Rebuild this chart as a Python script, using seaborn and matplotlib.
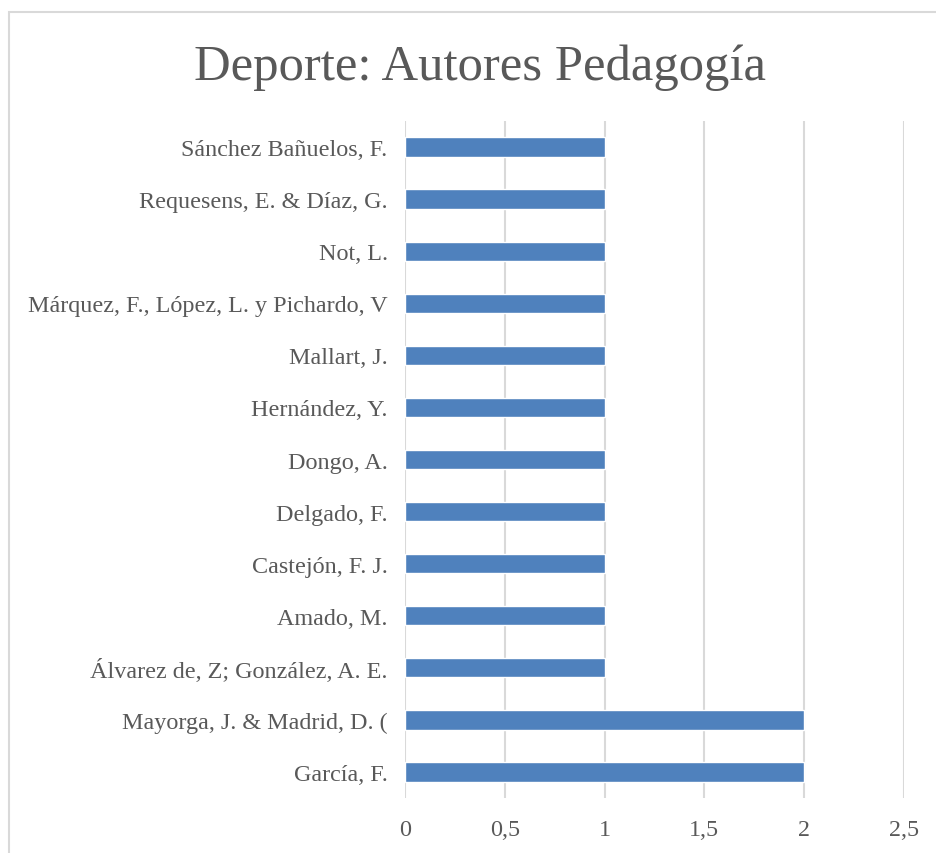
import matplotlib
matplotlib.use("Agg")
import matplotlib.pyplot as plt
import seaborn as sns
import pandas as pd
from matplotlib.patches import Rectangle

authors = [
    "Sánchez Bañuelos, F.",
    "Requesens, E. & Díaz, G.",
    "Not, L.",
    "Márquez, F., López, L. y Pichardo, V",
    "Mallart, J.",
    "Hernández, Y.",
    "Dongo, A.",
    "Delgado, F.",
    "Castejón, F. J.",
    "Amado, M.",
    "Álvarez de, Z; González, A. E.",
    "Mayorga, J. & Madrid, D. (",
    "García, F.",
]
counts = [1, 1, 1, 1, 1, 1, 1, 1, 1, 1, 1, 2, 2]
x_ticks = [0, 0.5, 1, 1.5, 2, 2.5]
x_tick_labels = ["0", "0,5", "1", "1,5", "2", "2,5"]
title = "Deporte: Autores Pedagogía"

df = pd.DataFrame({"author": authors, "count": counts})

sns.set_style("white")
plt.rcParams["font.family"] = ["Liberation Serif", "DejaVu Serif"]

W, H = 936, 854
fig = plt.figure(figsize=(W / 100, H / 100), dpi=100)
ax = fig.add_axes([405 / W, 1 - 799 / H, (904 - 405) / W, (799 - 122) / H])

sns.barplot(data=df, x="count", y="author", orient="h", color="#4f81bd",
            width=0.37, saturation=1, ax=ax, zorder=3)

ax.set_xlim(0, 2.5)
ax.set_xticks(x_ticks)
ax.set_xticklabels(x_tick_labels)
ax.set_xlabel("")
ax.set_ylabel("")
ax.grid(axis="x", color="#d9d9d9", linewidth=1.5, zorder=0)
ax.grid(axis="y", visible=False)
for s in ax.spines.values():
    s.set_visible(False)
ax.tick_params(axis="both", length=0, labelsize=17.4, colors="#595959")
ax.tick_params(axis="y", pad=12.5)
ax.tick_params(axis="x", pad=15)

fig.text(480 / W, 1 - 80 / H, title, ha="center", va="baseline",
         fontsize=36.5, color="#595959")

# chart border (extends beyond right/bottom edges, as in reference)
fig.patches.append(Rectangle((9 / W, -0.05), 1.2, 1 - 13 / H + 0.05,
                             transform=fig.transFigure, fill=False,
                             edgecolor="#d9d9d9", linewidth=1.5))

fig.savefig("out.png", dpi=100, facecolor="white")
